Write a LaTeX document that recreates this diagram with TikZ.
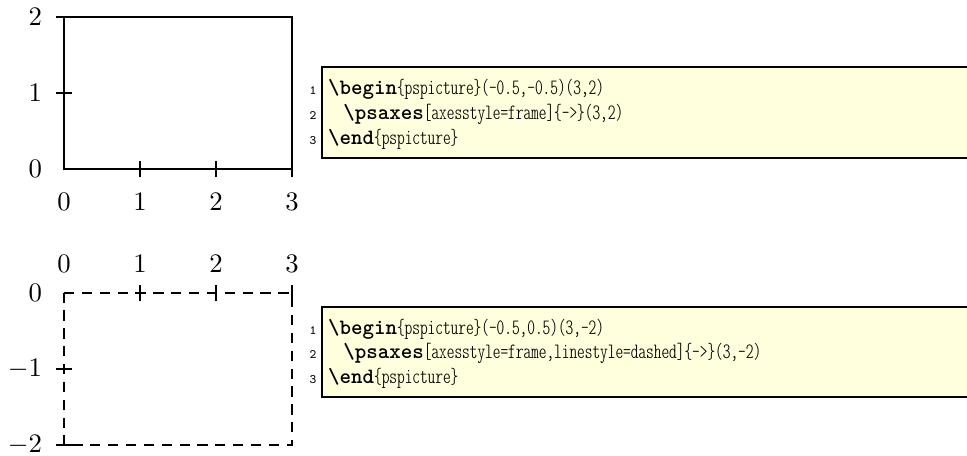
\documentclass[tikz,border=0pt]{standalone}
\usepackage{tikz}
\definecolor{codebg}{RGB}{255,255,221}
\newcommand\codefont{\fontsize{8.2}{9}\fontseries{lc}\ttfamily}
\newcommand\linenofont{\fontsize{4.8}{5}\ttfamily}
\tikzset{
  frameline/.style={line width=0.8pt},
  dashframe/.style={line width=0.8pt,dash pattern=on 0.135cm off 0.1cm},
  tickmark/.style={line width=0.8pt},
  xlab/.style={anchor=base,inner sep=0pt},
  ylab/.style={anchor=east,inner sep=0pt},
  codeline/.style={anchor=base west,inner sep=0pt,font=\codefont},
  lineno/.style={anchor=base east,inner sep=0pt,font=\linenofont},
  boxedge/.style={line width=0.8pt}
}
\begin{document}
\begin{tikzpicture}
\useasboundingbox (0,0) rectangle (12.724,5.987);
% frame axes
\begin{scope}[shift={(0.842,3.763)}]
\draw[frameline] (0,0) rectangle (3,2);
\foreach \x in {1,2,3} \draw[tickmark] (\x,-0.11) -- (\x,0.11);
\foreach \y in {1,2} \draw[tickmark] (-0.11,\y) -- (0.11,\y);
\foreach \x in {0,1,2,3} \node[xlab] (xa\x) at (\x,-0.54) {$\x$};
\foreach \y in {0,1,2} \node[ylab] (ya\y) at (-0.283,\y) {$\y$};
\end{scope}
\fill[codebg] (4.237,3.908) rectangle (12.724,5.105);
\draw[boxedge] (12.724,5.105) -- (4.237,5.105) -- (4.237,3.908) -- (12.724,3.908);
\node[lineno] (na1) at (4.171,4.737) {1};
\node[lineno] (na2) at (4.171,4.421) {2};
\node[lineno] (na3) at (4.171,4.092) {3};
\node[codeline] (ca1) at (4.31,4.737) {\textbf{\textbackslash begin}\{pspicture\}(-0.5,-0.5)(3,2)};
\node[codeline] (ca2) at (4.31,4.421) {~~\textbf{\textbackslash psaxes}[axesstyle=frame]\{->\}(3,2)};
\node[codeline] (ca3) at (4.31,4.092) {\textbf{\textbackslash end}\{pspicture\}};
% dashed frame axes
\begin{scope}[shift={(0.842,2.132)}]
\draw[dashframe] (0,0) -- (3,0) -- (3,-2) -- (0,-2) -- cycle;
\foreach \x in {1,2,3} \draw[tickmark] (\x,-0.11) -- (\x,0.11);
\foreach \y in {1,2} \draw[tickmark] (-0.11,-\y) -- (0.11,-\y);
\foreach \x in {0,1,2,3} \node[xlab] (xb\x) at (\x,0.263) {$\x$};
\node[ylab] (yb0) at (-0.283,0) {$0$};
\foreach \y in {1,2} \node[ylab] (yb\y) at (-0.283,-\y) {$-\y$};
\end{scope}
\fill[codebg] (4.237,0.763) rectangle (12.724,1.947);
\draw[boxedge] (12.724,1.947) -- (4.237,1.947) -- (4.237,0.763) -- (12.724,0.763);
\node[lineno] (nb1) at (4.171,1.592) {1};
\node[lineno] (nb2) at (4.171,1.276) {2};
\node[lineno] (nb3) at (4.171,0.947) {3};
\node[codeline] (cb1) at (4.31,1.592) {\textbf{\textbackslash begin}\{pspicture\}(-0.5,0.5)(3,-2)};
\node[codeline] (cb2) at (4.31,1.276) {~~\textbf{\textbackslash psaxes}[axesstyle=frame,linestyle=dashed]\{->\}(3,-2)};
\node[codeline] (cb3) at (4.31,0.947) {\textbf{\textbackslash end}\{pspicture\}};
\end{tikzpicture}
\end{document}
